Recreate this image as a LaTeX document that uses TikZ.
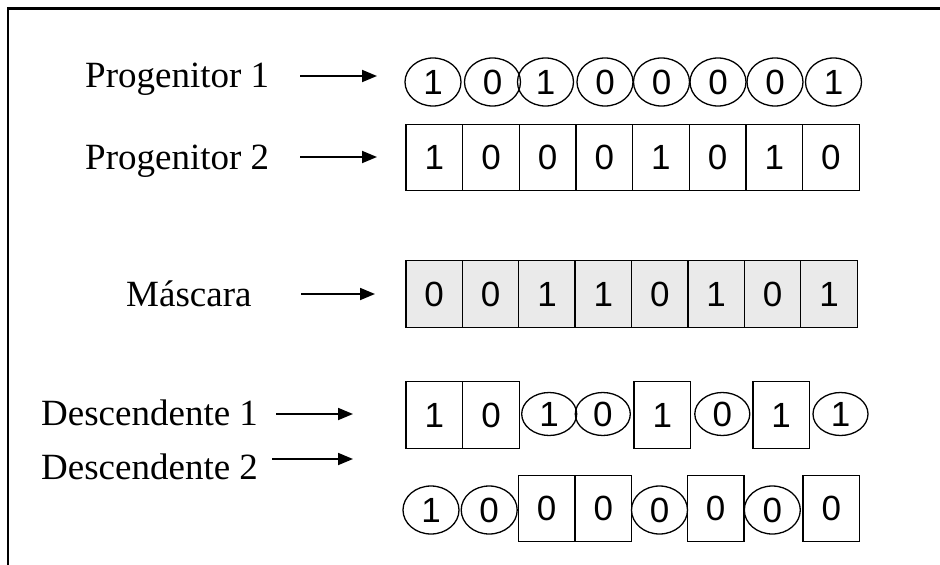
\documentclass[tikz,border=0pt]{standalone}
\usepackage{fontspec}
\setmainfont{Liberation Serif}
\newfontfamily\digitfont{Liberation Sans}
\usetikzlibrary{shapes.geometric,arrows.meta}
\definecolor{maskgray}{RGB}{234,234,234}
\tikzset{
  lbl/.style={anchor=base west, inner sep=0pt, font=\fontsize{37}{41}\selectfont},
  gene/.style={font=\digitfont\fontsize{35}{39}\selectfont, inner sep=0pt, line width=1.3pt},
  sqcell/.style={gene, draw, rectangle, minimum width=56.6pt, minimum height=66.5pt},
  maskcell/.style={sqcell, fill=maskgray},
  ellcell/.style={gene, draw, ellipse, minimum width=56pt, minimum height=48pt},
  smallell/.style={ellcell, minimum width=55pt, minimum height=43pt},
  pointer/.style={line width=1.8pt, -{Triangle[length=15pt,width=12pt]}},
  frame/.style={line width=2.5pt}
}
\begin{document}
\begin{tikzpicture}[x=1pt,y=-1pt]
\useasboundingbox (0,0) rectangle (940,565);
% open frame: top and left edges
\coordinate (fTL) at (8,8.5);
\coordinate (fTR) at (942,8.5);
\coordinate (fBL) at (8,567);
\draw[frame] (fTR) -- (fTL) -- (fBL);

% row labels
\node[lbl] (labP1) at (85,87) {Progenitor 1};
\node[lbl] (labP2) at (85,169) {Progenitor 2};
\node[lbl] (labM)  at (126,306) {Máscara};
\node[lbl] (labD1) at (41,425) {Descendente 1};
\node[lbl] (labD2) at (41,479) {Descendente 2};

% pointer arrows
\coordinate (aP1s) at (300,76);  \coordinate (aP1e) at (377,76);
\coordinate (aP2s) at (300,157); \coordinate (aP2e) at (377,157);
\coordinate (aMs)  at (301,294); \coordinate (aMe)  at (375,294);
\coordinate (aD1s) at (276,414); \coordinate (aD1e) at (353,414);
\coordinate (aD2s) at (272,459); \coordinate (aD2e) at (353,459);
\draw[pointer] (aP1s) -- (aP1e);
\draw[pointer] (aP2s) -- (aP2e);
\draw[pointer] (aMs) -- (aMe);
\draw[pointer] (aD1s) -- (aD1e);
\draw[pointer] (aD2s) -- (aD2e);

% Progenitor 1: all genes in ellipses
\foreach \x/\d [count=\i] in {433/1,492.5/0,545.5/1,605/0,661.5/0,718/0,775/0,833.5/1}
  \node[ellcell] (p1g\i) at (\x,82) {\d};

% Progenitor 2: all genes in squares
\foreach \d [count=\i] in {1,0,0,0,1,0,1,0}
  \node[sqcell] (p2g\i) at ({406+56.66*(\i-0.5)},157.5) {\d};

% crossover mask
\foreach \d [count=\i] in {0,0,1,1,0,1,0,1}
  \node[maskcell] (mk\i) at ({406+56.4*(\i-0.5)},294) {\d};

% Descendente 1
\node[sqcell]   (d1g1) at (434.3,415) {1};
\node[sqcell]   (d1g2) at (491,415) {0};
\node[smallell] (d1g3) at (549.2,414) {1};
\node[smallell] (d1g4) at (602.8,414) {0};
\node[sqcell]   (d1g5) at (662.3,415) {1};
\node[smallell] (d1g6) at (722.3,414) {0};
\node[sqcell]   (d1g7) at (781.2,415) {1};
\node[smallell] (d1g8) at (840.5,414) {1};

% Descendente 2
\node[ellcell] (d2g1) at (431,510) {1};
\node[ellcell] (d2g2) at (489.2,510) {0};
\node[sqcell]  (d2g3) at (546.7,508.5) {0};
\node[sqcell]  (d2g4) at (603.3,508.5) {0};
\node[ellcell] (d2g5) at (659.5,510) {0};
\node[sqcell]  (d2g6) at (715.7,508.5) {0};
\node[ellcell] (d2g7) at (772.3,510) {0};
\node[sqcell]  (d2g8) at (831.3,508.5) {0};
\end{tikzpicture}
\end{document}
